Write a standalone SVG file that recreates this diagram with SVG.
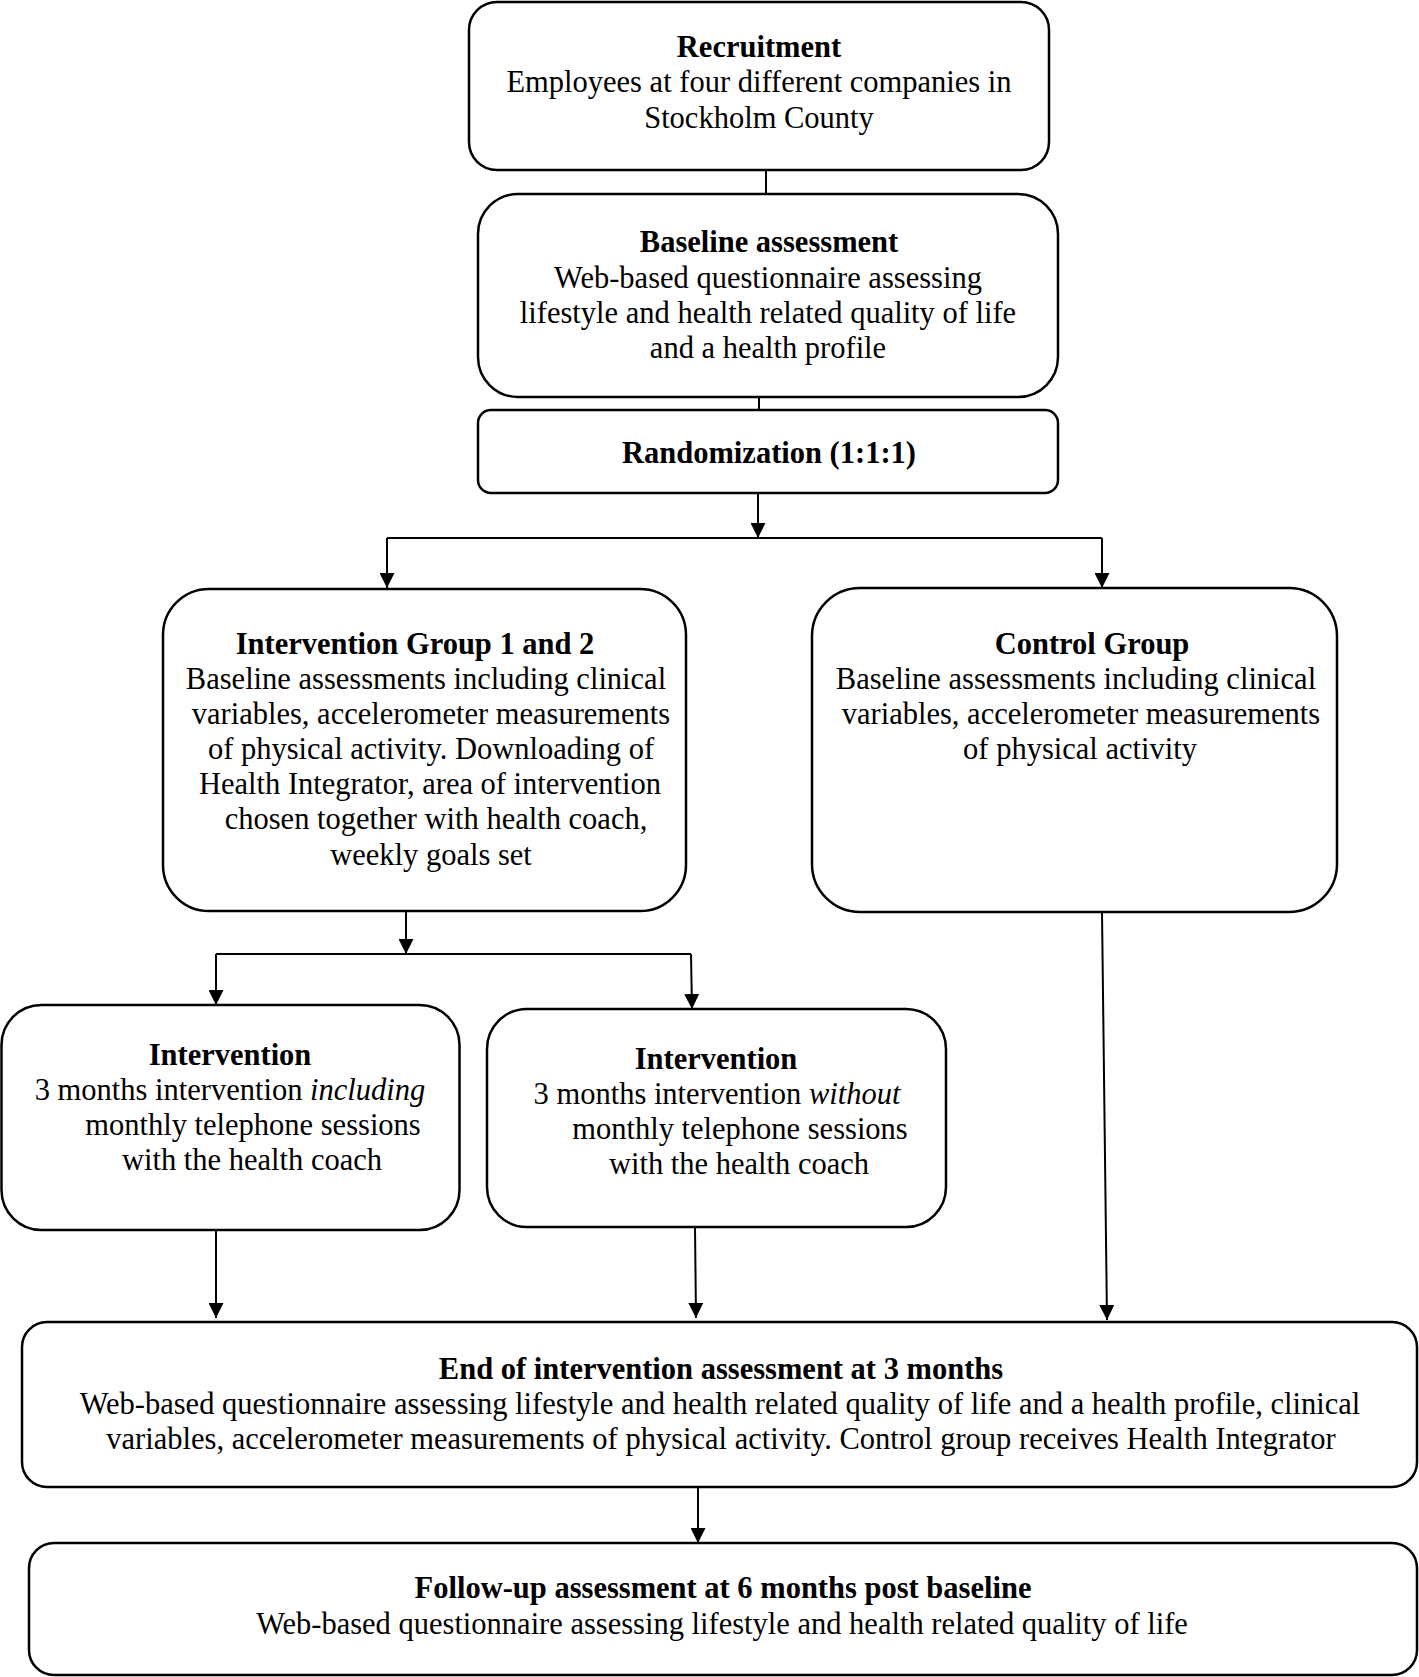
<svg xmlns="http://www.w3.org/2000/svg" width="1419" height="1677" viewBox="0 0 1419 1677">
<defs>
<style>
.box{fill:#fff;stroke:#000;stroke-width:2.5}
.t{font-family:"Liberation Serif","Times New Roman",serif;font-size:30.5px;fill:#000;text-anchor:middle}
.b{font-weight:bold}
.c{stroke:#000;stroke-width:2;fill:none}
</style>
<marker id="ah" viewBox="0 0 15 15" refX="15" refY="7.5" markerWidth="15" markerHeight="15" markerUnits="userSpaceOnUse" orient="auto">
<path d="M0,0 L15,7.5 L0,15 z" fill="#000"/>
</marker>
</defs>
<rect width="1419" height="1677" fill="#fff"/>
<g id="connectors">
<line class="c" x1="766" y1="170" x2="766" y2="194"/>
<line class="c" x1="759" y1="397" x2="759" y2="410"/>
<line class="c" x1="758" y1="493" x2="758" y2="538" marker-end="url(#ah)"/>
<line class="c" x1="387" y1="538" x2="1102" y2="538"/>
<line class="c" x1="387" y1="538" x2="387" y2="588" marker-end="url(#ah)"/>
<line class="c" x1="1102" y1="538" x2="1102" y2="588" marker-end="url(#ah)"/>
<line class="c" x1="406" y1="911" x2="406" y2="954" marker-end="url(#ah)"/>
<line class="c" x1="216" y1="954" x2="691" y2="954"/>
<line class="c" x1="216" y1="954" x2="216" y2="1005" marker-end="url(#ah)"/>
<line class="c" x1="691" y1="954" x2="692" y2="1009" marker-end="url(#ah)"/>
<line class="c" x1="216" y1="1230" x2="216" y2="1318" marker-end="url(#ah)"/>
<line class="c" x1="695" y1="1227" x2="696" y2="1318" marker-end="url(#ah)"/>
<line class="c" x1="1102" y1="912" x2="1107" y2="1320" marker-end="url(#ah)"/>
<line class="c" x1="698" y1="1487" x2="698" y2="1543" marker-end="url(#ah)"/>
</g>
<g id="recruitment">
<rect class="box" x="469" y="2" width="580" height="168" rx="28"/>
<text class="t b" x="759" y="57">Recruitment</text>
<text class="t" x="759" y="92">Employees at four different companies in</text>
<text class="t" x="759" y="128">Stockholm County</text>
</g>
<g id="baseline">
<rect class="box" x="478" y="194" width="580" height="203" rx="40"/>
<text class="t b" x="769" y="252">Baseline assessment</text>
<text class="t" x="768" y="288">Web-based questionnaire assessing</text>
<text class="t" x="768" y="323">lifestyle and health related quality of life</text>
<text class="t" x="768" y="358">and a health profile</text>
</g>
<g id="randomization">
<rect class="box" x="478" y="410" width="580" height="83" rx="13"/>
<text class="t b" x="769" y="463">Randomization (1:1:1)</text>
</g>
<g id="intervention-group">
<rect class="box" x="163" y="589" width="523" height="322" rx="46"/>
<text class="t b" x="415" y="654">Intervention Group 1 and 2</text>
<text class="t" x="426" y="689">Baseline assessments including clinical</text>
<text class="t" x="431" y="724">variables, accelerometer measurements</text>
<text class="t" x="431" y="759">of physical activity. Downloading of</text>
<text class="t" x="430" y="794">Health Integrator, area of intervention</text>
<text class="t" x="436" y="829">chosen together with health coach,</text>
<text class="t" x="431" y="865">weekly goals set</text>
</g>
<g id="control-group">
<rect class="box" x="812" y="588" width="525" height="324" rx="48"/>
<text class="t b" x="1092" y="654">Control Group</text>
<text class="t" x="1076" y="689">Baseline assessments including clinical</text>
<text class="t" x="1081" y="724">variables, accelerometer measurements</text>
<text class="t" x="1080" y="759">of physical activity</text>
</g>
<g id="intervention-with">
<rect class="box" x="1.5" y="1005" width="458" height="225" rx="40"/>
<text class="t b" x="230" y="1065">Intervention</text>
<text class="t" x="230" y="1100">3 months intervention <tspan font-style="italic">including</tspan></text>
<text class="t" x="253" y="1135">monthly telephone sessions</text>
<text class="t" x="252" y="1170">with the health coach</text>
</g>
<g id="intervention-without">
<rect class="box" x="487" y="1009" width="459" height="218" rx="40"/>
<text class="t b" x="716" y="1069">Intervention</text>
<text class="t" x="717" y="1104">3 months intervention <tspan font-style="italic">without</tspan></text>
<text class="t" x="740" y="1139">monthly telephone sessions</text>
<text class="t" x="739" y="1174">with the health coach</text>
</g>
<g id="end-assessment">
<rect class="box" x="22" y="1322" width="1395" height="165" rx="25"/>
<text class="t b" x="721" y="1379">End of intervention assessment at 3 months</text>
<text class="t" x="720" y="1414">Web-based questionnaire assessing lifestyle and health related quality of life and a health profile, clinical</text>
<text class="t" x="721" y="1449">variables, accelerometer measurements of physical activity. Control group receives Health Integrator</text>
</g>
<g id="follow-up">
<rect class="box" x="29" y="1543" width="1388" height="132" rx="25"/>
<text class="t b" x="723" y="1598">Follow-up assessment at 6 months post baseline</text>
<text class="t" x="722" y="1634">Web-based questionnaire assessing lifestyle and health related quality of life</text>
</g>
</svg>
